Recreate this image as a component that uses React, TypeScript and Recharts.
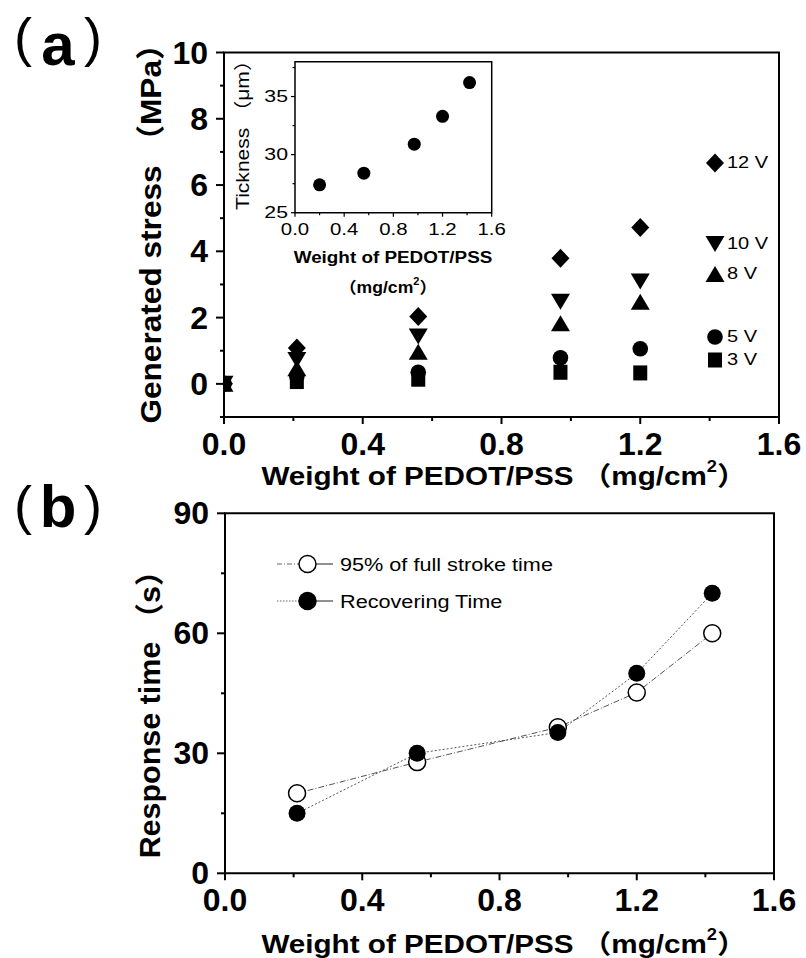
import React from 'react';
import { ScatterChart, Scatter, LineChart, Line, XAxis, YAxis, ReferenceArea } from 'recharts';

// (a) generated stress vs. PEDOT/PSS weight, one list per voltage
const weights = [0, 0.21, 0.56, 0.97, 1.2];
const stress12V = [0, 1.08, 2.03, 3.79, 4.72];
const stress10V = [0, 0.72, 1.43, 2.48, 3.09];
const stress8V = [0, 0.47, 0.97, 1.83, 2.48];
const stress5V = [0, 0.22, 0.35, 0.79, 1.06];
const stress3V = [0, 0.07, 0.14, 0.35, 0.33];

// inset: film thickness
const insetWeights = [0.2, 0.56, 0.97, 1.2, 1.42];
const thickness = [27.4, 28.4, 30.9, 33.3, 36.2];

// (b) response times
const timeWeights = [0.21, 0.56, 0.97, 1.2, 1.42];
const strokeTime = [20, 27.8, 36.5, 45.2, 60];
const recoverTime = [15, 30, 35.2, 50, 70];

const weightTicks = [0, 0.2, 0.4, 0.6, 0.8, 1.0, 1.2, 1.4, 1.6];
const weightMajor = [0, 0.4, 0.8, 1.2, 1.6];
const stressTicks = [-1, 0, 1, 2, 3, 4, 5, 6, 7, 8, 9, 10];
const stressMajor = [0, 2, 4, 6, 8, 10];
const thickTicks = [25, 27.5, 30, 32.5, 35, 37.5];
const thickMajor = [25, 30, 35];
const timeTicks = [0, 15, 30, 45, 60, 75, 90];
const timeMajor = [0, 30, 60, 90];

const FONT = "'Liberation Sans', Arial, 'Noto Sans CJK SC', sans-serif";

const pts = (xs: number[], ys: number[]) => xs.map((x, i) => ({ x, y: ys[i] }));

// text that can be stretched along its own direction (the scan is a bit wide)
const SText = ({ x, y, sx = 1, rotate = 0, children, ...rest }: any) => (
  <g transform={`translate(${x} ${y}) rotate(${rotate}) scale(${sx} 1)`}>
    <text x={0} y={0} fontFamily={FONT} fill="#000" {...rest}>
      {children}
    </text>
  </g>
);

type TickOpts = {
  side: 'left' | 'bottom';
  major: number[];
  fmt: (v: number) => string;
  size: number;
  bold?: boolean;
  len: number;
  minor: number;
  offset: number;
  sw?: number;
  sx?: number;
};

const makeTick = (o: TickOpts) => (props: any) => {
  const { x, y, payload } = props;
  const v = payload.value;
  const isMajor = o.major.some(m => Math.abs(m - v) < 1e-6);
  const len = isMajor ? o.len : o.minor;
  const weight = o.bold ? 'bold' : 'normal';
  if (o.side === 'left') {
    return (
      <g>
        <line x1={x} x2={x - len} y1={y} y2={y} stroke="#000" strokeWidth={o.sw ?? 1.5} />
        {isMajor && (
          <SText x={x - o.offset} y={y} sx={o.sx} textAnchor="end" dominantBaseline="central" fontSize={o.size} fontWeight={weight}>
            {o.fmt(v)}
          </SText>
        )}
      </g>
    );
  }
  return (
    <g>
      <line x1={x} x2={x} y1={y} y2={y + len} stroke="#000" strokeWidth={o.sw ?? 1.5} />
      {isMajor && (
        <SText x={x} y={y + o.offset} sx={o.sx} textAnchor="middle" dominantBaseline="central" fontSize={o.size} fontWeight={weight}>
          {o.fmt(v)}
        </SText>
      )}
    </g>
  );
};

const Diamond = (p: any) => (
  <path d={`M${p.cx},${p.cy - 9.5}L${p.cx + 9},${p.cy}L${p.cx},${p.cy + 9.5}L${p.cx - 9},${p.cy}Z`} fill="#000" />
);
const TriDown = (p: any) => (
  <path d={`M${p.cx - 9.5},${p.cy - 8}L${p.cx + 9.5},${p.cy - 8}L${p.cx},${p.cy + 8}Z`} fill="#000" />
);
const TriUp = (p: any) => (
  <path d={`M${p.cx - 9.5},${p.cy + 8}L${p.cx + 9.5},${p.cy + 8}L${p.cx},${p.cy - 8}Z`} fill="#000" />
);
const Ball = (p: any) => <circle cx={p.cx} cy={p.cy} r={7.8} fill="#000" />;
const Square = (p: any) => <rect x={p.cx - 7} y={p.cy - 7.5} width={14} height={15} fill="#000" />;
const SmallBall = (p: any) => <circle cx={p.cx} cy={p.cy} r={6.5} fill="#000" />;

const OpenDot = (p: any) => (
  <circle key={`o${p.index}`} cx={p.cx} cy={p.cy} r={8.5} fill="#fff" stroke="#000" strokeWidth={1.5} />
);
const FullDot = (p: any) => <circle key={`f${p.index}`} cx={p.cx} cy={p.cy} r={8.5} fill="#000" />;

const fmt1 = (v: number) => v.toFixed(1);
const fmt0 = (v: number) => String(v);

const PanelA = () => (
  <div style={{ position: 'absolute', left: 0, top: 0 }}>
    <ScatterChart width={806} height={500} margin={{ top: 52.5, right: 27, left: 223, bottom: 82 }}>
      <XAxis
        type="number"
        dataKey="x"
        domain={[0, 1.6]}
        ticks={weightTicks}
        interval={0}
        allowDataOverflow
        height={1}
        axisLine={false}
        tickLine={false}
        tickSize={0}
        tickMargin={0}
        tick={makeTick({ side: 'bottom', major: weightMajor, fmt: fmt1, size: 32, bold: true, len: 7, minor: 4, offset: 27, sw: 2 })}
      />
      <YAxis
        type="number"
        dataKey="y"
        domain={[-1, 10]}
        ticks={stressTicks}
        interval={0}
        allowDataOverflow
        width={1}
        axisLine={false}
        tickLine={false}
        tickSize={0}
        tickMargin={0}
        tick={makeTick({ side: 'left', major: stressMajor, fmt: fmt0, size: 32, bold: true, len: 8, minor: 4, offset: 16, sw: 2 })}
      />
      <ReferenceArea x1={0} x2={1.6} y1={-1} y2={10} fill="none" stroke="#000" strokeWidth={2} />
      <Scatter data={pts(weights, stress3V)} shape={Square} isAnimationActive={false} />
      <Scatter data={pts(weights, stress5V)} shape={Ball} isAnimationActive={false} />
      <Scatter data={pts(weights, stress8V)} shape={TriUp} isAnimationActive={false} />
      <Scatter data={pts(weights, stress10V)} shape={TriDown} isAnimationActive={false} />
      <Scatter data={pts(weights, stress12V)} shape={Diamond} isAnimationActive={false} />
    </ScatterChart>
  </div>
);

const Inset = () => (
  <div style={{ position: 'absolute', left: 0, top: 0 }}>
    <ScatterChart width={806} height={300} margin={{ top: 61.7, right: 314.3, left: 294, bottom: 86.3 }}>
      <XAxis
        type="number"
        dataKey="x"
        domain={[0, 1.6]}
        ticks={weightTicks}
        interval={0}
        allowDataOverflow
        height={1}
        axisLine={false}
        tickLine={false}
        tickSize={0}
        tickMargin={0}
        tick={makeTick({ side: 'bottom', major: weightMajor, fmt: fmt1, size: 17, len: 4, minor: 2.5, offset: 16, sw: 1.2, sx: 1.2 })}
      />
      <YAxis
        type="number"
        dataKey="y"
        domain={[25, 38]}
        ticks={thickTicks}
        interval={0}
        allowDataOverflow
        width={1}
        axisLine={false}
        tickLine={false}
        tickSize={0}
        tickMargin={0}
        tick={makeTick({ side: 'left', major: thickMajor, fmt: fmt0, size: 17, len: 4, minor: 2.5, offset: 7, sw: 1.2, sx: 1.25 })}
      />
      <ReferenceArea x1={0} x2={1.6} y1={25} y2={38} fill="none" stroke="#000" strokeWidth={1.5} />
      <Scatter data={pts(insetWeights, thickness)} shape={SmallBall} isAnimationActive={false} />
    </ScatterChart>
  </div>
);

const timeRows = timeWeights.map((w, i) => ({ w, stroke: strokeTime[i], recover: recoverTime[i] }));

const PanelB = () => (
  <div style={{ position: 'absolute', left: 0, top: 0 }}>
    <LineChart width={806} height={958} data={timeRows} margin={{ top: 513.3, right: 32, left: 224, bottom: 83.7 }}>
      <XAxis
        type="number"
        dataKey="w"
        domain={[0, 1.6]}
        ticks={weightTicks}
        interval={0}
        allowDataOverflow
        height={1}
        axisLine={false}
        tickLine={false}
        tickSize={0}
        tickMargin={0}
        tick={makeTick({ side: 'bottom', major: weightMajor, fmt: fmt1, size: 32, bold: true, len: 7, minor: 4, offset: 27, sw: 2 })}
      />
      <YAxis
        type="number"
        domain={[0, 90]}
        ticks={timeTicks}
        interval={0}
        allowDataOverflow
        width={1}
        axisLine={false}
        tickLine={false}
        tickSize={0}
        tickMargin={0}
        tick={makeTick({ side: 'left', major: timeMajor, fmt: fmt0, size: 32, bold: true, len: 8, minor: 4, offset: 16, sw: 2 })}
      />
      <ReferenceArea x1={0} x2={1.6} y1={0} y2={90} fill="none" stroke="#000" strokeWidth={2} />
      <Line
        type="linear"
        dataKey="stroke"
        stroke="#555"
        strokeWidth={1}
        strokeDasharray="6 2 1 2"
        dot={OpenDot}
        activeDot={false}
        isAnimationActive={false}
      />
      <Line
        type="linear"
        dataKey="recover"
        stroke="#555"
        strokeWidth={1}
        strokeDasharray="2 2"
        dot={FullDot}
        activeDot={false}
        isAnimationActive={false}
      />
    </LineChart>
  </div>
);

const legendA = [
  { label: '12 V', y: 163, Shape: Diamond },
  { label: '10 V', y: 244, Shape: TriDown },
  { label: '8 V', y: 274, Shape: TriUp },
  { label: '5 V', y: 337, Shape: Ball },
  { label: '3 V', y: 360, Shape: Square },
];

const legendB = [
  { label: '95% of full stroke time', y: 564, open: true },
  { label: 'Recovering Time', y: 601, open: false },
];

const WeightTitle = ({ size, sup }: { size: number; sup: number }) => (
  <>
    <tspan>Weight of PEDOT/PSS （mg/cm</tspan>
    <tspan dy={-size * 0.5} fontSize={sup}>2</tspan>
    <tspan dy={size * 0.5}>）</tspan>
  </>
);

const Overlay = () => (
  <svg width={806} height={958} style={{ position: 'absolute', left: 0, top: 0, pointerEvents: 'none' }}>
    <g fontFamily={FONT} fill="#000">
      {/* panel labels */}
      <text x={14} y={56} fontSize={54}>(</text>
      <text x={58} y={65} fontSize={60} fontWeight="bold" textAnchor="middle">a</text>
      <text x={84} y={56} fontSize={54}>)</text>
      <text x={14} y={524} fontSize={54}>(</text>
      <text x={58} y={527} fontSize={60} fontWeight="bold" textAnchor="middle">b</text>
      <text x={84} y={524} fontSize={54}>)</text>
    </g>

    {/* axis titles (a) */}
    <SText x={151} y={226} rotate={-90} sx={1.09} textAnchor="middle" dominantBaseline="central" fontSize={29} fontWeight="bold">
      Generated stress （MPa）
    </SText>
    <SText x={504} y={485} sx={1.14} textAnchor="middle" fontSize={26} fontWeight="bold">
      <WeightTitle size={26} sup={16} />
    </SText>

    {/* legend (a) */}
    {legendA.map(({ label, y, Shape }) => (
      <g key={label}>
        <Shape cx={715} cy={y} />
        <SText x={727} y={y} sx={1.25} dominantBaseline="central" fontSize={16}>
          {label}
        </SText>
      </g>
    ))}

    {/* inset titles */}
    <SText x={243} y={130} rotate={-90} sx={1.17} textAnchor="middle" dominantBaseline="central" fontSize={18}>
      Tickness （μm）
    </SText>
    <SText x={393} y={263} sx={1.11} textAnchor="middle" fontSize={17} fontWeight="bold">
      Weight of PEDOT/PSS
    </SText>
    <SText x={388} y={293} sx={1.1} textAnchor="middle" fontSize={16} fontWeight="bold">
      <tspan>（mg/cm</tspan>
      <tspan dy={-8} fontSize={10}>2</tspan>
      <tspan dy={8}>）</tspan>
    </SText>

    {/* axis titles (b) */}
    <SText x={150} y={707} rotate={-90} sx={1.05} textAnchor="middle" dominantBaseline="central" fontSize={29} fontWeight="bold">
      Response time （s）
    </SText>
    <SText x={504} y={953} sx={1.14} textAnchor="middle" fontSize={26} fontWeight="bold">
      <WeightTitle size={26} sup={16} />
    </SText>

    {/* legend (b) */}
    {legendB.map(({ label, y, open }) => (
      <g key={label}>
        <line x1={277} x2={299} y1={y} y2={y} stroke="#666" strokeWidth={1} strokeDasharray={open ? '5 2 1 2' : '1.5 1.5'} />
        <line x1={316} x2={333} y1={y} y2={y} stroke="#222" strokeWidth={1} />
        <circle cx={307.5} cy={y} r={8.5} fill={open ? '#fff' : '#000'} stroke="#000" strokeWidth={1.5} />
        <SText x={340} y={y} sx={1.14} dominantBaseline="central" fontSize={19}>
          {label}
        </SText>
      </g>
    ))}
  </svg>
);

export default function App() {
  return (
    <div style={{ position: 'absolute', left: 0, top: 0, width: 806, height: 958, background: '#fff' }}>
      <PanelA />
      <Inset />
      <PanelB />
      <Overlay />
    </div>
  );
}
